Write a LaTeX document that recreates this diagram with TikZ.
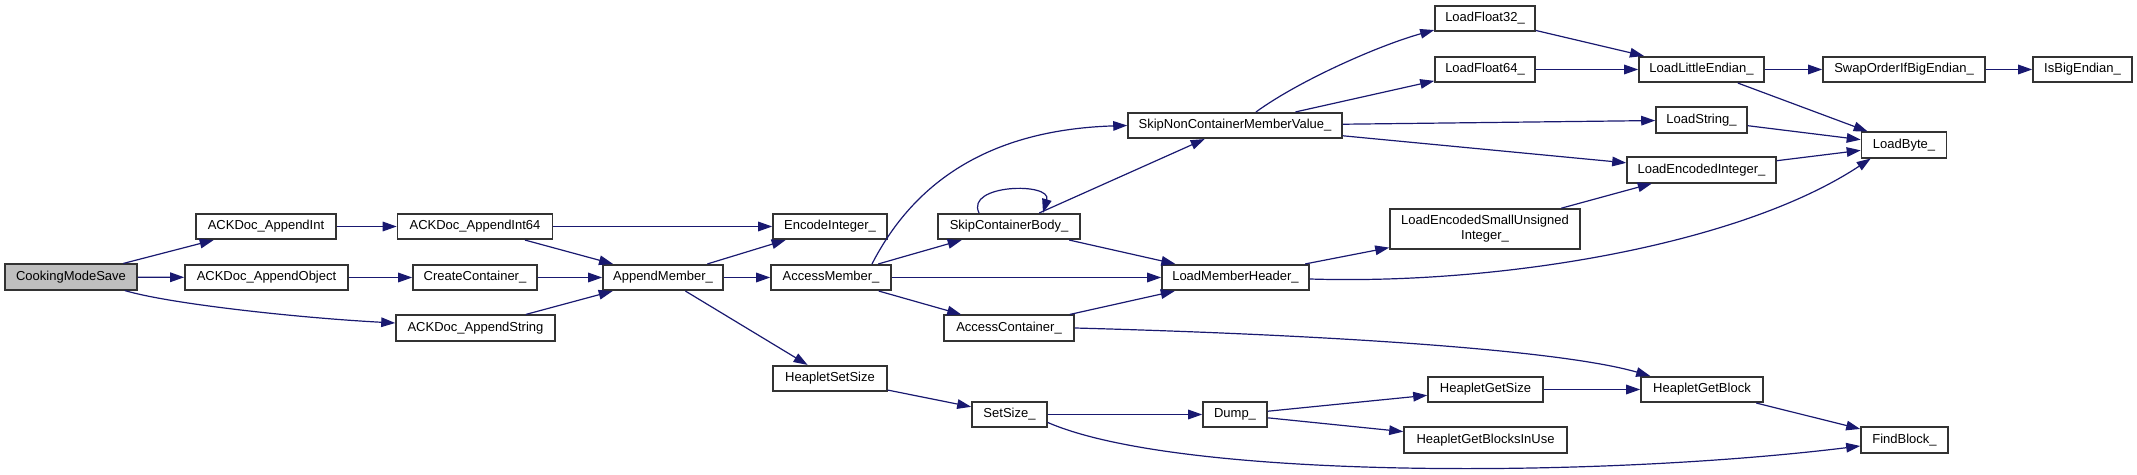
\documentclass[tikz,border=0pt]{standalone}
\usepackage{fontspec}
\setmainfont{Liberation Sans}
\usetikzlibrary{arrows.meta}
\definecolor{edgeblue}{RGB}{25,25,112}
\definecolor{rootgray}{RGB}{191,191,191}
\begin{document}
\begin{tikzpicture}[
  x=0.5pt, y=-0.5pt,
  fn/.style={draw=black!80, line width=0.8pt, fill=white, align=center, font=\fontsize{6.5}{7.5}\selectfont, inner xsep=1pt, inner ysep=0pt, minimum height=12.75pt},
  root/.style={fn, fill=rootgray},
  arrow/.style={-{Triangle[length=7pt,width=4.8pt]}, draw=edgeblue, line width=0.6pt}
]
\useasboundingbox (0,0) rectangle (2137,475);

\node[root, minimum width=66pt] (cms) at (71,277) {CookingModeSave};
\node[fn, minimum width=70pt] (appendint) at (266,226.5) {ACKDoc\_AppendInt};
\node[fn, minimum width=81.5pt] (appendobject) at (266.5,277.5) {ACKDoc\_AppendObject};
\node[fn, minimum width=77.5pt] (appendint64) at (475,226.5) {ACKDoc\_AppendInt64};
\node[fn, minimum width=62pt] (createcontainer) at (475,277.5) {CreateContainer\_};
\node[fn, minimum width=79.5pt] (appendstring) at (475.5,328) {ACKDoc\_AppendString};
\node[fn, minimum width=60pt] (appendmember) at (663,277.5) {AppendMember\_};
\node[fn, minimum width=57pt] (encodeint) at (830,226.5) {EncodeInteger\_};
\node[fn, minimum width=60pt] (accessmember) at (831,277.5) {AccessMember\_};
\node[fn, minimum width=57pt] (heapsetsize) at (830,378.5) {HeapletSetSize};
\node[fn, minimum width=71pt] (skipbody) at (1009,226.5) {SkipContainerBody\_};
\node[fn, minimum width=65pt] (accesscont) at (1009,328) {AccessContainer\_};
\node[fn, minimum width=37.5pt] (setsize) at (1009.5,414.5) {SetSize\_};
\node[fn, minimum width=107pt] (skipvalue) at (1235,125.5) {SkipNonContainerMemberValue\_};
\node[fn, minimum width=73.5pt] (loadheader) at (1235.5,277.5) {LoadMemberHeader\_};
\node[fn, minimum width=32pt] (dump) at (1235,414.5) {Dump\_};
\node[fn, minimum width=50pt] (loadf32) at (1485,18.5) {LoadFloat32\_};
\node[fn, minimum width=50pt] (loadf64) at (1485,69.5) {LoadFloat64\_};
\node[fn, minimum width=95pt, minimum height=20pt] (loadsmall) at (1485,229) {LoadEncodedSmallUnsigned\\Integer\_};
\node[fn, minimum width=57.5pt] (heapgetsize) at (1485.5,389.5) {HeapletGetSize};
\node[fn, minimum width=81.5pt] (heapinuse) at (1485.5,440) {HeapletGetBlocksInUse};
\node[fn, minimum width=62.5pt] (loadle) at (1701.5,69.5) {LoadLittleEndian\_};
\node[fn, minimum width=45.5pt] (loadstring) at (1701.5,120) {LoadString\_};
\node[fn, minimum width=74.5pt] (loadencint) at (1701.5,170) {LoadEncodedInteger\_};
\node[fn, minimum width=61pt] (heapgetblock) at (1702,389.5) {HeapletGetBlock};
\node[fn, minimum width=81pt] (swaporder) at (1904,69.5) {SwapOrderIfBigEndian\_};
\node[fn, minimum width=42.5pt] (loadbyte) at (1904,145) {LoadByte\_};
\node[fn, minimum width=43.5pt] (findblock) at (1904.5,440) {FindBlock\_};
\node[fn, minimum width=49.5pt] (isbig) at (2082.5,69.5) {IsBigEndian\_};

\draw[arrow] (cms) -- (appendint);
\draw[arrow] (cms) -- (appendobject);
\draw[arrow] ([xshift=-6.5pt]cms.south east) .. controls (170,304) and (300,318) .. ([yshift=2.5pt]appendstring.west);
\draw[arrow] (appendint) -- (appendint64);
\draw[arrow] (appendint64) -- (encodeint);
\draw[arrow] (appendint64) -- (appendmember);
\draw[arrow] (appendobject) -- (createcontainer);
\draw[arrow] (createcontainer) -- (appendmember);
\draw[arrow] (appendstring) -- (appendmember);
\draw[arrow] (appendmember) -- (encodeint);
\draw[arrow] (appendmember) -- (accessmember);
\draw[arrow] (appendmember) -- (heapsetsize);
\draw[arrow] ([xshift=20.5pt]accessmember.north) .. controls (910,190) and (980,130) .. (skipvalue.west);
\draw[arrow] (accessmember) -- (skipbody);
\draw[arrow] (accessmember) -- (loadheader);
\draw[arrow] (accessmember) -- (accesscont);
\draw[arrow] ([xshift=-15pt]skipbody.north) .. controls +(-7pt,14.5pt) and +(4.5pt,15.5pt) .. ([xshift=17pt]skipbody.north);
\draw[arrow] (skipbody) -- (skipvalue);
\draw[arrow] (skipbody) -- (loadheader);
\draw[arrow] (accesscont) -- (loadheader);
\draw[arrow] (accesscont.east) .. controls (1333,335) and (1560,350) .. ([xshift=5pt]heapgetblock.north west);
\draw[arrow] ([xshift=10.5pt]skipvalue.north) .. controls (1300,80) and (1380,45) .. ([yshift=1pt]loadf32.south west);
\draw[arrow] (skipvalue) -- (loadf64);
\draw[arrow] (skipvalue) -- (loadstring);
\draw[arrow] (skipvalue) -- (loadencint);
\draw[arrow] (loadf32) -- (loadle);
\draw[arrow] (loadf64) -- (loadle);
\draw[arrow] (loadle) -- (swaporder);
\draw[arrow] (swaporder) -- (isbig);
\draw[arrow] (loadle) -- (loadbyte);
\draw[arrow] (loadstring) -- (loadbyte);
\draw[arrow] (loadencint) -- (loadbyte);
\draw[arrow] (loadheader) -- (loadsmall);
\draw[arrow] ([yshift=-0.75pt]loadheader.east) .. controls (1500,285) and (1740,245) .. ([xshift=5pt]loadbyte.south west);
\draw[arrow] (loadsmall) -- (loadencint);
\draw[arrow] (heapsetsize) -- (setsize);
\draw[arrow] (setsize) -- (dump);
\draw[arrow] ([yshift=-4pt]setsize.east) .. controls (1180,480) and (1600,478) .. ([yshift=-3pt]findblock.west);
\draw[arrow] (dump) -- (heapgetsize);
\draw[arrow] (dump) -- (heapinuse);
\draw[arrow] (heapgetsize) -- (heapgetblock);
\draw[arrow] (heapgetblock) -- (findblock);
\end{tikzpicture}
\end{document}
